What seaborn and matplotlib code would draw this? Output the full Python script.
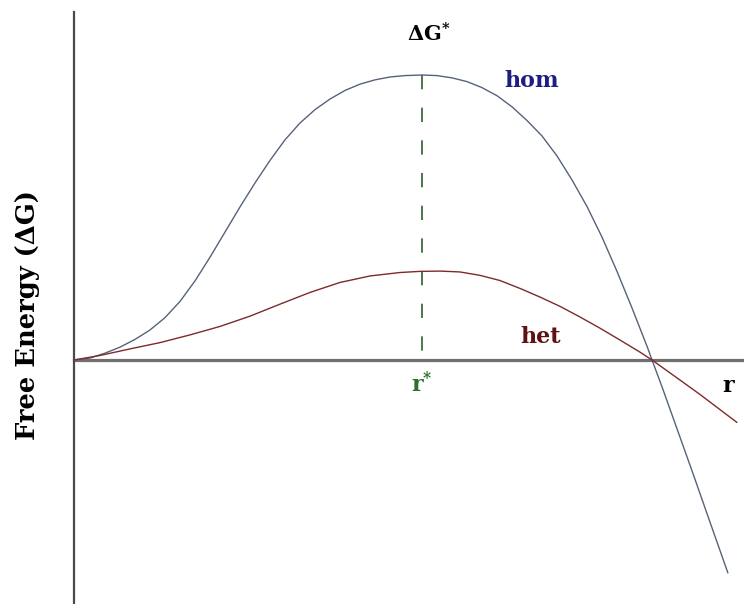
import numpy as np
import pandas as pd
import matplotlib
matplotlib.use("Agg")
import matplotlib.pyplot as plt
import seaborn as sns

# Nucleus radius (in units of r*) and free energy (in units of the homogeneous barrier)
hom_r = [0.000, 0.046, 0.089, 0.132, 0.175, 0.218, 0.261, 0.305, 0.348, 0.391,
         0.434, 0.477, 0.520, 0.563, 0.606, 0.649, 0.693, 0.736, 0.779, 0.822,
         0.865, 0.908, 0.951, 1.000, 1.043, 1.086, 1.129, 1.172, 1.216, 1.259,
         1.302, 1.345, 1.388, 1.431, 1.474, 1.517, 1.560, 1.603, 1.647, 1.661,
         1.690, 1.733, 1.776, 1.819, 1.879]
hom_g = [0.000, 0.007, 0.024, 0.045, 0.072, 0.105, 0.148, 0.206, 0.278, 0.361,
         0.449, 0.537, 0.621, 0.700, 0.772, 0.831, 0.879, 0.916, 0.946, 0.968,
         0.983, 0.993, 0.998, 1.000, 0.998, 0.990, 0.977, 0.956, 0.927, 0.888,
         0.840, 0.786, 0.716, 0.632, 0.539, 0.432, 0.312, 0.184, 0.047, 0.000,
         -0.095, -0.242, -0.389, -0.539, -0.747]

het_r = [0.000, 0.075, 0.161, 0.247, 0.333, 0.420, 0.506, 0.592, 0.678, 0.764,
         0.851, 0.937, 0.994, 1.052, 1.109, 1.167, 1.224, 1.282, 1.339, 1.397,
         1.454, 1.511, 1.569, 1.626, 1.661, 1.741, 1.799, 1.905]
het_g = [0.000, 0.016, 0.039, 0.061, 0.088, 0.118, 0.154, 0.196, 0.237, 0.272,
         0.295, 0.307, 0.311, 0.312, 0.309, 0.297, 0.279, 0.251, 0.221, 0.188,
         0.151, 0.112, 0.070, 0.028, 0.000, -0.070, -0.121, -0.219]

curve_names = ["hom", "het"]
curve_colors = {"hom": "#55637a", "het": "#7d2a2a"}
label_colors = {"hom": "#1e1e80", "het": "#5e1212"}

df = pd.concat([
    pd.DataFrame({"r": hom_r, "G": hom_g, "curve": "hom"}),
    pd.DataFrame({"r": het_r, "G": het_g, "curve": "het"}),
], ignore_index=True)

sns.set_style("white")
plt.rcParams["font.family"] = ["DejaVu Serif", "DejaVu Sans"]
plt.rcParams["mathtext.fontset"] = "dejavuserif"

fig = plt.figure(figsize=(7.44, 6.04), dpi=100)
ax = fig.add_axes([0, 0, 1, 1])

sns.lineplot(data=df, x="r", y="G", hue="curve", hue_order=curve_names,
             palette=curve_colors, sort=False, estimator=None,
             linewidth=1.0, legend=False, ax=ax,
             solid_joinstyle="round", solid_capstyle="round")

ax.set_xlim(-0.2126, 1.9253)
ax.set_ylim(-0.8561, 1.2632)

# Axes drawn through the origin
for side in ("top", "right"):
    ax.spines[side].set_visible(False)
ax.spines["left"].set_position(("data", 0))
ax.spines["bottom"].set_position(("data", 0))
ax.spines["left"].set_bounds(-0.8561, 1.221)
ax.spines["bottom"].set_bounds(0, 1.9253)
ax.spines["left"].set_color("#4a4a4a")
ax.spines["left"].set_linewidth(1.6)
ax.spines["bottom"].set_color("#707070")
ax.spines["bottom"].set_linewidth(2.3)
ax.spines["bottom"].set_zorder(1)
ax.set_xticks([])
ax.set_yticks([])
ax.set_xlabel("")
ax.set_ylabel("")

# Critical radius and barrier height
i_star = int(np.argmax(hom_g))
r_star, g_star = hom_r[i_star], hom_g[i_star]
ax.plot([r_star, r_star], [g_star, 0], color="#2f5f2f", linewidth=1.2,
        linestyle=(0, (8.6, 11.0)), zorder=1)

ax.text(1.02, 1.116, r"$\mathbf{\Delta G^{*}}$", ha="center", va="baseline",
        fontsize=15, color="black")
ax.text(1.316, 0.958, "hom", ha="center", va="baseline", fontsize=16,
        color=label_colors["hom"], fontweight="bold")
ax.text(1.342, 0.060, "het", ha="center", va="baseline", fontsize=16,
        color=label_colors["het"], fontweight="bold")
ax.text(r_star, -0.112, r"$\mathbf{r^{*}}$", ha="center", va="baseline",
        fontsize=16, color="#2e6e2e")
ax.text(1.879, -0.112, "r", ha="center", va="baseline", fontsize=16,
        color="black", fontweight="bold")
ax.text(-0.135, 0.158, "Free Energy (ΔG)", rotation=90, ha="center",
        va="center", fontsize=18.5, color="black", fontweight="bold")

fig.savefig("out.png", dpi=100, facecolor="white")
